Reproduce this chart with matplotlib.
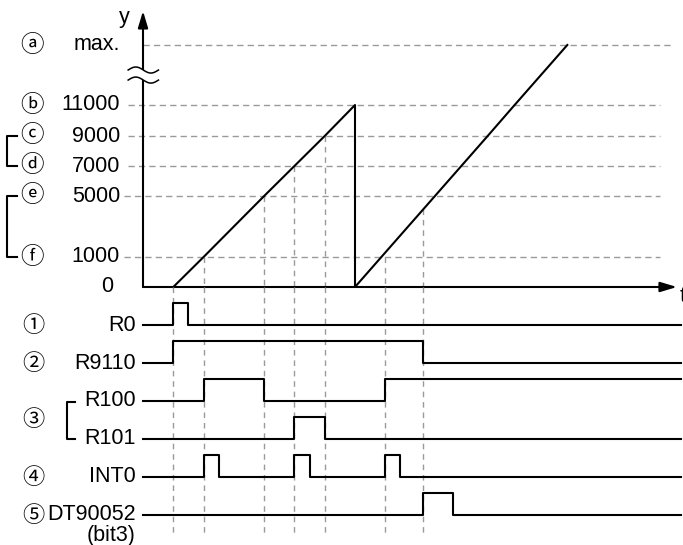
import matplotlib
matplotlib.use("Agg")
import matplotlib.pyplot as plt
import matplotlib.transforms as mtransforms
import numpy as np

plt.rcParams['font.family'] = ['Liberation Sans', 'DejaVu Sans']

# counter levels (y axis is schematic, not to scale)
levels = [0, 1000, 5000, 7000, 9000, 11000, 32767]
level_labels = ["0", "1000", "5000", "7000", "9000", "11000", "max."]
level_marks = ["", "ⓕ", "ⓔ", "ⓓ", "ⓒ", "ⓑ", "ⓐ"]

# counter value over time (reset to 0 at t=6)
counter_t = [0, 1, 3, 4, 5, 6, 6, 6.87, 8.64, 9.51, 10.38, 11.27, 13.01]
counter_v = [0, 1000, 5000, 7000, 9000, 11000, 0, 1000, 5000, 7000, 9000, 11000, 32767]

# times marked with vertical guides and the level they start from (None = counter line)
event_t = [0, 1, 3, 4, 5, 7, 8.25]
event_v = [0, 1000, 5000, 7000, 9000, 1000, None]

# signals: (on, off) intervals, None = stays on
signal_names = ["R0", "R9110", "R100", "R101", "INT0", "DT90052"]
signal_marks = ["①", "②", "", "", "④", "⑤"]
R0_on = [(0, 0.5)]
R9110_on = [(0, 8.25)]
R100_on = [(1, 3), (7, None)]
R101_on = [(4, 5)]
INT0_on = [(1, 1.5), (4, 4.5), (7, 7.5)]
DT90052_on = [(8.25, 9.25)]
signals = [R0_on, R9110_on, R100_on, R101_on, INT0_on, DT90052_on]

T_START, T_END = -1.0, 16.77
W, H = 683, 545
GRAY = "#9a9a9a"
FS = 15.5
MARK_FONT = ["Noto Sans CJK JP", "DejaVu Sans"]

# drawing height (px above t axis) of each level
level_pos = [0, 30, 91, 121, 151, 182, 242]
anchor_v = np.array(levels + [2 * levels[-1]], dtype=float)
anchor_p = np.array(level_pos + [300], dtype=float)


def fwd(v):
    return np.interp(v, anchor_v, anchor_p)


def inv(p):
    return np.interp(p, anchor_p, anchor_v)


def wave(on):
    xs, ys = [T_START], [0]
    for a, b in on:
        xs += [a, a]
        ys += [0, 1]
        if b is not None:
            xs += [b, b]
            ys += [1, 0]
    xs.append(T_END)
    ys.append(ys[-1])
    return np.array(xs), np.array(ys)


fig = plt.figure(figsize=(W / 100, H / 100), dpi=100)
ax = fig.add_axes([143 / W, (H - 287) / H, (W - 143) / W, 287 / H])
axb = fig.add_axes([143 / W, 0, (W - 143) / W, (H - 287) / H], sharex=ax)
for a in (ax, axb):
    a.axis("off")
ax.set_xlim(T_START, 16.83)
ax.set_yscale("function", functions=(fwd, inv))
ax.set_ylim(0, inv(287))
axb.set_ylim(-(H - 287) / 38, 0)

# horizontal guides
dash_start = [None, -1.62, -1.62, -1.49, -1.49, -1.49, -1.0]
dash_end = [None, 16.07, 16.07, 16.07, 16.07, 16.07, 16.5]
for lv, x0, x1 in zip(levels, dash_start, dash_end):
    if x0 is None:
        continue
    ax.plot([x0, x1], [lv, lv], color=GRAY, lw=1.0, dashes=(4.5, 3), clip_on=False, zorder=1)

# vertical guides
bottom = -(535 - 287) / 38
for t, v in zip(event_t, event_v):
    if v is None:
        v = np.interp(t, counter_t[6:], counter_v[6:])
    ax.plot([t, t], [v, 0], color=GRAY, lw=1.0, dashes=(4, 3.5), clip_on=False, zorder=1)
    axb.plot([t, t], [0, bottom], color=GRAY, lw=1.0, dashes=(4, 3.5), clip_on=False, zorder=1)

# counter
ax.plot(counter_t, counter_v, color="k", lw=1.5, clip_on=False, zorder=3)

# axes arrows
arrow = dict(arrowstyle="-|>,head_length=0.5,head_width=0.15", lw=1.5, color="k",
             mutation_scale=20, shrinkA=0, shrinkB=0)
ax.annotate("", xy=(T_START, 276 / 287), xytext=(T_START, 0),
            xycoords=("data", "axes fraction"), arrowprops=arrow, zorder=4)
ax.annotate("", xy=(16.63, 0), xytext=(T_START, 0),
            xycoords=("data", "axes fraction"), arrowprops=arrow, zorder=4)
fig.text(124 / W, 1 - 17 / H, "y", ha="center", va="center", fontsize=FS)
fig.text(680 / W, 1 - 297 / H, "t", ha="left", va="center", fontsize=FS)

# axis break
bt = mtransforms.blended_transform_factory(ax.transData, ax.transAxes)
wx = np.linspace(-1.49, -0.49, 60)
hi = 0.756 + 0.0105 * np.sin((wx + 1.49) * 2 * np.pi)
lo = 0.721 + 0.0105 * np.sin((wx + 1.49) * 2 * np.pi)
ax.fill_between(wx, lo, hi, color="white", transform=bt, clip_on=False, zorder=5, lw=0)
for yy in (hi, lo):
    ax.plot(wx, yy, color="k", lw=1.1, transform=bt, clip_on=False, zorder=6)

# y labels
tt = mtransforms.blended_transform_factory(fig.transFigure, ax.transData)
for lv, lab, mk in zip(levels, level_labels, level_marks):
    xr = 113 if lab == "0" else 120
    ax.text(xr / W, lv, lab, transform=tt, ha="right", va="center", fontsize=FS)
    if mk:
        ax.text(32 / W, lv, mk, transform=tt, ha="center", va="center", fontsize=17,
                family=MARK_FONT)
for top, bot in ((9000, 7000), (5000, 1000)):
    ax.plot([17 / W, 7 / W, 7 / W, 17 / W], [top, top, bot, bot], color="k", lw=1.5,
            transform=tt, clip_on=False)

# signals
tb = mtransforms.blended_transform_factory(fig.transFigure, axb.transData)
for row, (name, mk, on) in enumerate(zip(signal_names, signal_marks, signals), start=1):
    xs, ys = wave(on)
    axb.plot(xs, -row + 0.58 * ys, color="k", lw=1.5, clip_on=False, zorder=3)
    axb.text(136 / W, -row, name, transform=tb, ha="right", va="center", fontsize=FS)
    if mk:
        axb.text(33 / W, -row, mk, transform=tb, ha="center", va="center", fontsize=16,
                 family=MARK_FONT)
axb.text(33 / W, -3.5, "③", transform=tb, ha="center", va="center", fontsize=16,
         family=MARK_FONT)
axb.plot([75 / W, 67 / W, 67 / W, 75 / W], [-3.03, -3.03, -4, -4], color="k", lw=1.5,
         transform=tb, clip_on=False)
axb.text(136 / W, bottom, "(bit3)", transform=tb, ha="right", va="center", fontsize=FS)

fig.savefig("out.png", dpi=100)
